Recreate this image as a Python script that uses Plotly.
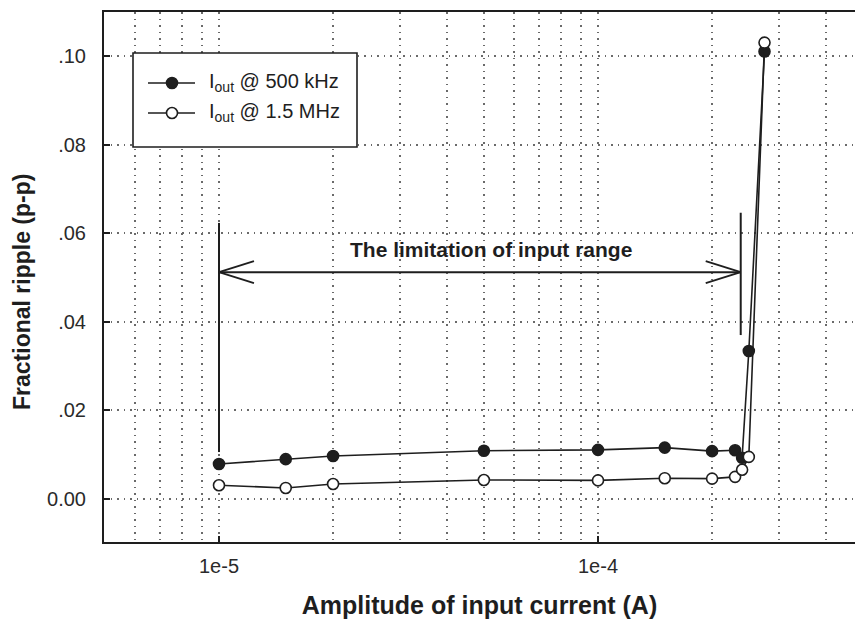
import plotly.graph_objects as go

# Measured ripple vs. input current amplitude
current_500k = [1e-5, 1.5e-5, 2e-5, 5e-5, 1e-4, 1.5e-4, 2e-4, 2.3e-4, 2.4e-4, 2.5e-4, 2.75e-4]
ripple_500k = [0.0079, 0.0090, 0.0097, 0.0109, 0.0111, 0.0116, 0.0108, 0.0110, 0.0093, 0.0334, 0.1010]

current_1p5M = [1e-5, 1.5e-5, 2e-5, 5e-5, 1e-4, 1.5e-4, 2e-4, 2.3e-4, 2.4e-4, 2.5e-4, 2.75e-4]
ripple_1p5M = [0.0031, 0.0025, 0.0034, 0.0043, 0.0042, 0.0047, 0.0046, 0.0050, 0.0066, 0.0095, 0.1030]

series_names = ["I<sub>out</sub> @ 500 kHz", "I<sub>out</sub> @ 1.5 MHz"]
series_fill = ["#1e1e1e", "white"]

y_tick_vals = [0.0, 0.02, 0.04, 0.06, 0.08, 0.10]
y_tick_text = ["0.00", ".02", ".04", ".06", ".08", ".10"]
x_tick_vals = [1e-5, 1e-4]
x_tick_text = ["1e-5", "1e-4"]
x_minor_vals = [m * 10.0 ** e for e in (-6, -5, -4) for m in range(2, 10)]

# Input-range limit markers
range_lo, range_hi = 1e-5, 2.38e-4
arrow_y = 0.0512

INK = "#1e1e1e"
GRID = "#6a6a6a"
FONT = "Liberation Sans, Arial, sans-serif"

W, H = 855, 626
M_L, M_R, M_T, M_B = 104, 0, 12, 84
PW, PH = W - M_L - M_R, H - M_T - M_B


def px_x(p):
    return (p - M_L) / PW


def px_y(p):
    return (H - M_B - p) / PH


fig = go.Figure()
for xs, ys, name, fill in ((current_500k, ripple_500k, series_names[0], series_fill[0]),
                           (current_1p5M, ripple_1p5M, series_names[1], series_fill[1])):
    fig.add_trace(go.Scatter(
        x=xs, y=ys, mode="lines+markers", name=name, showlegend=False,
        line=dict(color=INK, width=1.6),
        marker=dict(symbol="circle", size=11, color=fill, line=dict(color=INK, width=1.6)),
    ))

# vertical bars bounding the usable input range, and the double arrow between them
shapes = [
    dict(type="line", xref="x", yref="y", x0=range_lo, x1=range_lo, y0=0.0106, y1=0.0623,
         line=dict(color=INK, width=2)),
    dict(type="line", xref="x", yref="y", x0=range_hi, x1=range_hi, y0=0.0370, y1=0.0646,
         line=dict(color=INK, width=2)),
    dict(type="line", xref="x", yref="y", x0=range_lo, x1=range_hi, y0=arrow_y, y1=arrow_y,
         line=dict(color=INK, width=2)),
]
head_len = 10 ** (35 / 379)
head_half = 0.0025
for tip, back in ((range_lo, range_lo * head_len), (range_hi, range_hi / head_len)):
    for s in (1, -1):
        shapes.append(dict(type="line", xref="x", yref="y", x0=tip, x1=back,
                           y0=arrow_y, y1=arrow_y + s * head_half,
                           line=dict(color=INK, width=1.8)))

# legend box drawn by hand so the sample lines can be long
annotations = []
shapes.append(dict(type="rect", xref="paper", yref="paper",
                   x0=px_x(133), x1=px_x(357), y0=px_y(147), y1=px_y(53),
                   line=dict(color=INK, width=1.6), fillcolor="white", layer="above"))
for row_y, name, fill in ((83, series_names[0], series_fill[0]),
                          (113, series_names[1], series_fill[1])):
    shapes.append(dict(type="line", xref="paper", yref="paper",
                       x0=px_x(148), x1=px_x(195), y0=px_y(row_y), y1=px_y(row_y),
                       line=dict(color=INK, width=1.6), layer="above"))
    shapes.append(dict(type="circle", xref="paper", yref="paper",
                       xsizemode="pixel", ysizemode="pixel",
                       xanchor=px_x(172), yanchor=px_y(row_y),
                       x0=-5.5, x1=5.5, y0=-5.5, y1=5.5,
                       line=dict(color=INK, width=1.6), fillcolor=fill, layer="above"))
    annotations.append(dict(text=name, xref="paper", yref="paper",
                            x=px_x(207), y=px_y(row_y), xanchor="left", yanchor="middle",
                            showarrow=False, font=dict(family=FONT, size=20, color=INK)))

annotations += [
    dict(text="The limitation of input range", xref="paper", yref="y",
         x=px_x(491), y=0.0562, showarrow=False,
         font=dict(family=FONT, size=21, color=INK, weight="bold")),
    dict(text="Fractional ripple (p-p)", xref="paper", yref="paper",
         x=px_x(22), y=px_y(292), textangle=-90, showarrow=False,
         xanchor="center", yanchor="middle",
         font=dict(family=FONT, size=23, color=INK, weight="bold")),
]

fig.update_layout(
    width=W, height=H,
    margin=dict(l=M_L, r=M_R, t=M_T, b=M_B),
    paper_bgcolor="white", plot_bgcolor="white",
    font=dict(family=FONT, color=INK, size=20),
    shapes=shapes,
    annotations=annotations,
    showlegend=False,
)

fig.update_xaxes(
    type="log", range=[-5.3034, -3.3219],
    tickvals=x_tick_vals, ticktext=x_tick_text,
    ticks="inside", ticklen=6, tickwidth=1.5, tickcolor=INK,
    tickfont=dict(size=20, color="#2a2a2a"), ticklabelstandoff=5,
    showline=True, linecolor=INK, linewidth=2, mirror=True,
    showgrid=True, gridcolor=GRID, gridwidth=1.5, griddash="1.5px,5px",
    minor=dict(tickvals=x_minor_vals, showgrid=True, gridcolor=GRID, gridwidth=1.5,
               griddash="1.5px,5px", ticks=""),
    zeroline=False,
    title=dict(text="Amplitude of input current (A)", standoff=20,
               font=dict(family=FONT, size=25, color=INK, weight="bold")),
)
fig.update_yaxes(
    range=[-0.0097, 0.1099],
    tickvals=y_tick_vals, ticktext=y_tick_text,
    ticks="inside", ticklen=6, tickwidth=1.5, tickcolor=INK,
    tickfont=dict(size=20, color="#2a2a2a"), ticklabelstandoff=12,
    showline=True, linecolor=INK, linewidth=2, mirror=False,
    showgrid=True, gridcolor=GRID, gridwidth=1.5, griddash="1.5px,5px",
    zeroline=False,
)

fig.write_html("out.html")
